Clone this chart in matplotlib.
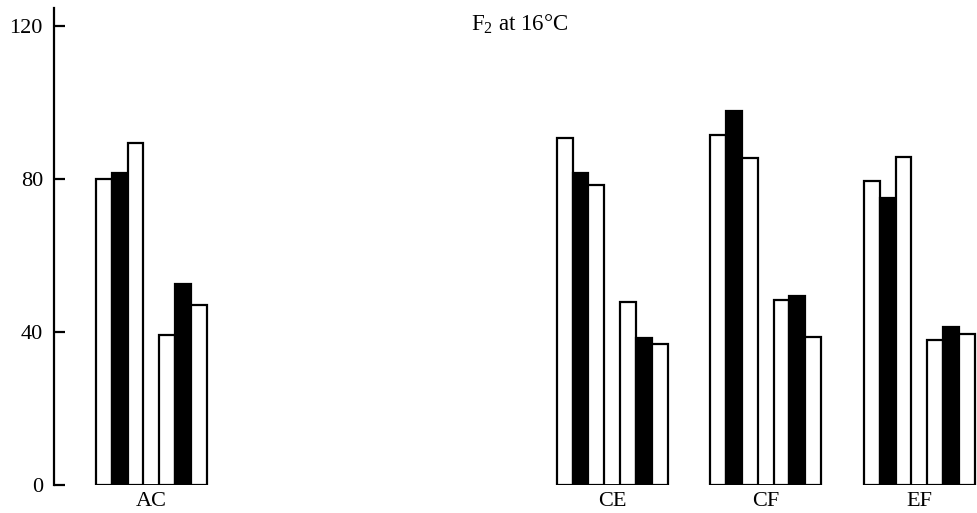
import numpy as np
import matplotlib.pyplot as plt

plt.rcParams['font.family'] = ['Liberation Serif', 'DejaVu Serif']
plt.rcParams['mathtext.fontset'] = 'custom'
plt.rcParams['mathtext.rm'] = 'Liberation Serif'

# groups (slots 1 and 2 are empty in the original figure)
groups = ["AC", "CE", "CF", "EF"]
group_pos = [0, 3, 4, 5]

# first triplet of bars: open, filled, open
left_open1 = [80.0, 90.7, 91.5, 79.6]
left_filled = [81.5, 81.6, 97.9, 74.9]
left_open2 = [89.4, 78.4, 85.6, 85.8]
# second triplet of bars: open, filled, open
right_open1 = [39.2, 47.8, 48.4, 37.9]
right_filled = [52.6, 38.4, 49.5, 41.2]
right_open2 = [47.0, 36.9, 38.8, 39.5]

series = [left_open1, left_filled, left_open2, right_open1, right_filled, right_open2]
colors = ['white', 'black', 'white', 'white', 'black', 'white']
offsets = [-3, -2, -1, 1, 2, 3]

w = 0.103
lw = 1.6

fig = plt.figure(figsize=(9.77, 5.13), dpi=100)
ax = fig.add_axes([54/977, 28/513, 1 - 54/977, (485-8)/513])

x = np.array(group_pos, dtype=float)
for vals, c, off in zip(series, colors, offsets):
    ax.bar(x + off*w, vals, width=w, color=c, edgecolor='black', linewidth=lw, zorder=3)

# baseline under each group
ax.hlines(np.zeros(len(x)), x - 3.5*w, x + 3.5*w, colors='black', linewidth=lw*1.3, zorder=4)

ax.set_xlim(-0.633, 5.375)
ax.set_ylim(0, 124.7)
for s in ['top', 'right', 'bottom']:
    ax.spines[s].set_visible(False)
ax.spines['left'].set_linewidth(1.6)

ax.set_yticks([0, 40, 80, 120])
ax.tick_params(axis='y', direction='in', length=8, width=1.6, pad=8, labelsize=16)
ax.set_xticks(x)
ax.set_xticklabels(groups)
ax.tick_params(axis='x', length=0, pad=5, labelsize=16)

fig.text(520/977, 1 - 24/513, r"F$_2$ at 16°C", ha='center', va='center', fontsize=16.5)

fig.savefig('out.png', dpi=100)
